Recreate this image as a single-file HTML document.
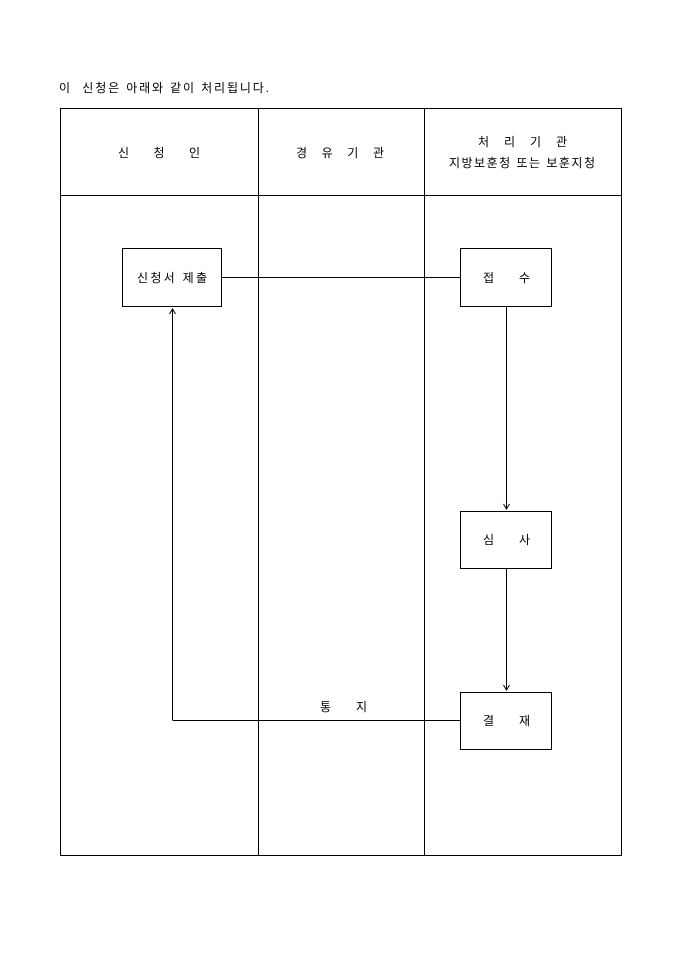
<!DOCTYPE html>
<html><head><meta charset="utf-8"><style>
body{margin:0;background:#fff;}
svg text{font-family:"Liberation Sans","Noto Sans CJK KR","NanumGothic",sans-serif;font-size:12px;fill:#000;white-space:pre;}
</style></head><body>
<svg width="680" height="962" viewBox="0 0 680 962" xmlns="http://www.w3.org/2000/svg" xml:space="preserve">
<text x="59" y="92" font-size="12.5" textLength="210" lengthAdjust="spacing">이  신청은 아래와 같이 처리됩니다.</text>
<g stroke="#000" stroke-width="1" fill="none" shape-rendering="crispEdges">
<rect x="60.5" y="108.5" width="561" height="747"/>
<line x1="60" y1="195.5" x2="621" y2="195.5"/>
<line x1="258.5" y1="108" x2="258.5" y2="855"/>
<line x1="424.5" y1="108" x2="424.5" y2="855"/>
<rect x="122.5" y="248.5" width="99" height="58" fill="#fff"/>
<rect x="460.5" y="248.5" width="91" height="58" fill="#fff"/>
<rect x="460.5" y="511.5" width="91" height="57" fill="#fff"/>
<rect x="460.5" y="692.5" width="91" height="57" fill="#fff"/>
<line x1="222" y1="277.5" x2="460" y2="277.5"/>
<line x1="506.5" y1="307" x2="506.5" y2="509"/>
<line x1="506.5" y1="569" x2="506.5" y2="690"/>
<line x1="172.5" y1="720.5" x2="460" y2="720.5"/>
<line x1="172.5" y1="310" x2="172.5" y2="720"/>
</g>
<g stroke="#000" stroke-width="1" fill="none">
<polyline points="503.5,504 506.5,509 509.5,504"/>
<polyline points="503.5,685 506.5,690 509.5,685"/>
<polyline points="169.5,314 172.5,309 175.5,314"/>
</g>
<text x="118" y="157" textLength="82" lengthAdjust="spacing">신   청   인</text>
<text x="296" y="157" textLength="88" lengthAdjust="spacing">경  유  기  관</text>
<text x="478" y="146" textLength="89" lengthAdjust="spacing">처  리  기  관</text>
<text x="449" y="167" textLength="146" lengthAdjust="spacing">지방보훈청 또는 보훈지청</text>
<text x="137" y="282" textLength="70" lengthAdjust="spacing">신청서 제출</text>
<text x="483" y="282" textLength="47" lengthAdjust="spacing">접     수</text>
<text x="483" y="544" textLength="47" lengthAdjust="spacing">심     사</text>
<text x="483" y="725" textLength="47" lengthAdjust="spacing">결     재</text>
<text x="320" y="711" textLength="47" lengthAdjust="spacing">통     지</text>
</svg>
</body></html>
